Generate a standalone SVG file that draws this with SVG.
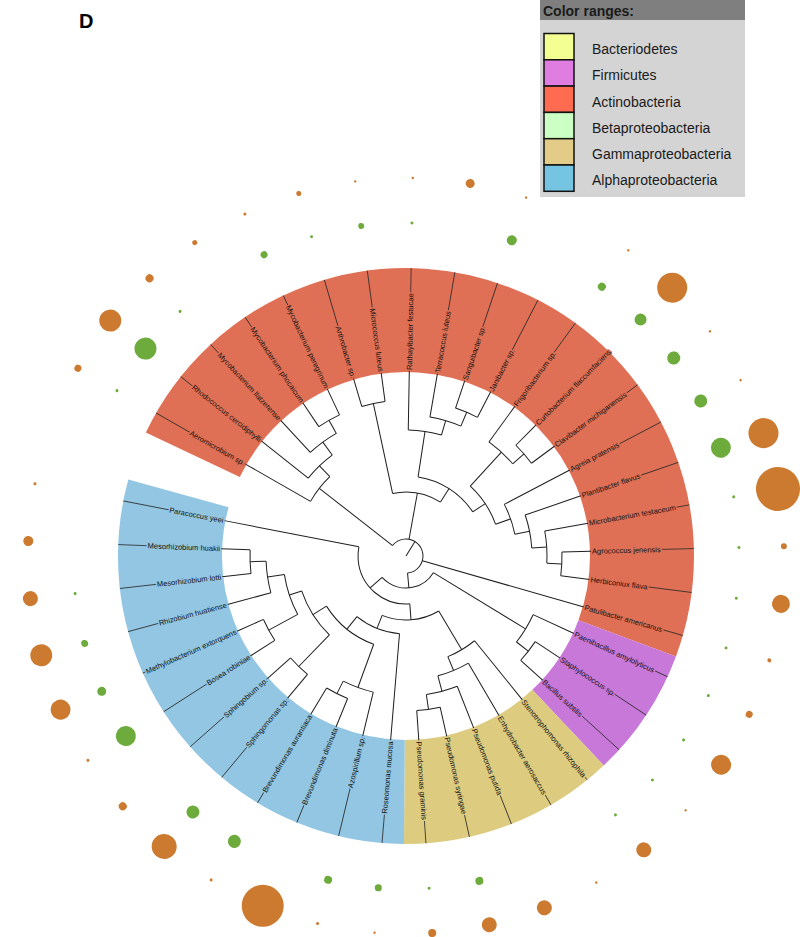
<svg xmlns="http://www.w3.org/2000/svg" width="800" height="937" viewBox="0 0 800 937">
<style>
.t{fill:none;stroke:#1e1e1e;stroke-width:1}
.ld{stroke:#2a2a2a;stroke-width:0.8}
.lb{font-family:"Liberation Sans",Arial,sans-serif;font-size:7.5px;fill:#111;paint-order:stroke;stroke-width:3px;stroke-linejoin:round}
.L{text-anchor:end}
.cr .lb{stroke:#E07055}
.cp .lb{stroke:#C878D8}
.cy .lb{stroke:#DDCC80}
.cb .lb{stroke:#92C6E2}
.ring{fill:none;stroke-width:104}
.o{fill:#CC7A30}
.g{fill:#6CAB3C}
.lg{font-family:"Liberation Sans",Arial,sans-serif;font-size:14px;fill:#1a1a1a}
.sw{stroke:#111;stroke-width:1.5}
</style>
<rect width="800" height="937" fill="#fff"/>
<text x="79" y="28" font-family="Liberation Sans,Arial,sans-serif" font-size="20" font-weight="bold" fill="#000">D</text>
<g id="legend">
<rect x="540" y="0" width="205" height="197" fill="#d4d4d4"/>
<rect x="540" y="0" width="205" height="20" fill="#7f7f7f"/>
<text class="lg" x="543" y="16" font-weight="bold">Color ranges:</text>
<rect class="sw" x="544" y="33.5" width="30" height="26.3" fill="#F4FF92"/>
<rect class="sw" x="544" y="59.8" width="30" height="26.3" fill="#E07DE0"/>
<rect class="sw" x="544" y="86.1" width="30" height="26.3" fill="#FF6B50"/>
<rect class="sw" x="544" y="112.4" width="30" height="26.3" fill="#CCFFC4"/>
<rect class="sw" x="544" y="138.7" width="30" height="26.3" fill="#E3CC88"/>
<rect class="sw" x="544" y="165" width="30" height="26.3" fill="#75C4E2"/>
<text class="lg" x="592" y="54">Bacteriodetes</text>
<text class="lg" x="592" y="80">Firmicutes</text>
<text class="lg" x="592" y="106.5">Actinobacteria</text>
<text class="lg" x="592" y="132.5">Betaproteobacteria</text>
<text class="lg" x="592" y="159">Gammaproteobacteria</text>
<text class="lg" x="592" y="185">Alphaproteobacteria</text>
</g>
<g transform="translate(406 556)">
<g id="ranges">
<circle class="ring" r="236" stroke="#E07055" pathLength="360" stroke-dasharray="175 360" transform="rotate(205.4)"/>
<circle class="ring" r="236" stroke="#C878D8" pathLength="360" stroke-dasharray="26.25 360" transform="rotate(20.4)"/>
<circle class="ring" r="236" stroke="#DDCC80" pathLength="360" stroke-dasharray="43.75 360" transform="rotate(46.65)"/>
<circle class="ring" r="236" stroke="#92C6E2" pathLength="360" stroke-dasharray="105 360" transform="rotate(90.4)"/>
</g>
<g id="connectors" class="t">
<line x2="17" transform="rotate(302)"/>
<circle r="17" pathLength="360" stroke-dasharray="226.82 360" transform="rotate(217.98)"/>
<line x1="17" x2="110" transform="rotate(217.98)"/>
<circle r="110" pathLength="360" stroke-dasharray="16.405 360" transform="rotate(209.775)"/>
<line x1="110" x2="185" transform="rotate(209.775)"/>
<line x1="110" x2="125" transform="rotate(226.18)"/>
<circle r="125" pathLength="360" stroke-dasharray="15.315 360" transform="rotate(218.525)"/>
<line x1="125" x2="185" transform="rotate(218.525)"/>
<line x1="125" x2="141" transform="rotate(233.84)"/>
<circle r="141" pathLength="360" stroke-dasharray="13.125 360" transform="rotate(227.275)"/>
<line x1="141" x2="185" transform="rotate(227.275)"/>
<line x1="141" x2="156" transform="rotate(240.4)"/>
<circle r="156" pathLength="360" stroke-dasharray="8.75 360" transform="rotate(236.025)"/>
<line x1="156" x2="185" transform="rotate(236.025)"/>
<line x1="156" x2="185" transform="rotate(244.775)"/>
<line x1="17" x2="64" transform="rotate(280.25)"/>
<circle r="64" pathLength="360" stroke-dasharray="44.7 360" transform="rotate(257.9)"/>
<line x1="64" x2="156" transform="rotate(257.9)"/>
<circle r="156" pathLength="360" stroke-dasharray="8.75 360" transform="rotate(253.525)"/>
<line x1="156" x2="185" transform="rotate(253.525)"/>
<line x1="156" x2="185" transform="rotate(262.275)"/>
<line x1="64" x2="80" transform="rotate(302.6)"/>
<circle r="80" pathLength="360" stroke-dasharray="47.85 360" transform="rotate(278.68)"/>
<line x1="80" x2="126" transform="rotate(278.68)"/>
<circle r="126" pathLength="360" stroke-dasharray="15.315 360" transform="rotate(271.025)"/>
<line x1="126" x2="185" transform="rotate(271.025)"/>
<line x1="126" x2="141" transform="rotate(286.34)"/>
<circle r="141" pathLength="360" stroke-dasharray="13.125 360" transform="rotate(279.775)"/>
<line x1="141" x2="185" transform="rotate(279.775)"/>
<line x1="141" x2="156" transform="rotate(292.9)"/>
<circle r="156" pathLength="360" stroke-dasharray="8.75 360" transform="rotate(288.525)"/>
<line x1="156" x2="185" transform="rotate(288.525)"/>
<line x1="156" x2="185" transform="rotate(297.275)"/>
<line x1="80" x2="95" transform="rotate(326.53)"/>
<circle r="95" pathLength="360" stroke-dasharray="27.89 360" transform="rotate(312.59)"/>
<line x1="95" x2="141" transform="rotate(312.59)"/>
<circle r="141" pathLength="360" stroke-dasharray="13.125 360" transform="rotate(306.025)"/>
<line x1="141" x2="185" transform="rotate(306.025)"/>
<line x1="141" x2="156" transform="rotate(319.15)"/>
<circle r="156" pathLength="360" stroke-dasharray="8.75 360" transform="rotate(314.775)"/>
<line x1="156" x2="185" transform="rotate(314.775)"/>
<line x1="156" x2="185" transform="rotate(323.525)"/>
<line x1="95" x2="111" transform="rotate(340.48)"/>
<circle r="111" pathLength="360" stroke-dasharray="16.405 360" transform="rotate(332.275)"/>
<line x1="111" x2="185" transform="rotate(332.275)"/>
<line x1="111" x2="126" transform="rotate(348.68)"/>
<circle r="126" pathLength="360" stroke-dasharray="15.315 360" transform="rotate(341.025)"/>
<line x1="126" x2="185" transform="rotate(341.025)"/>
<line x1="126" x2="141" transform="rotate(356.34)"/>
<circle r="141" pathLength="360" stroke-dasharray="13.125 360" transform="rotate(349.775)"/>
<line x1="141" x2="185" transform="rotate(349.775)"/>
<line x1="141" x2="156" transform="rotate(362.9)"/>
<circle r="156" pathLength="360" stroke-dasharray="8.75 360" transform="rotate(358.525)"/>
<line x1="156" x2="185" transform="rotate(358.525)"/>
<line x1="156" x2="185" transform="rotate(367.275)"/>
<line x1="17" x2="185" transform="rotate(16.025)"/>
<line x1="17" x2="32" transform="rotate(84.8)"/>
<circle r="32" pathLength="360" stroke-dasharray="106.96 360" transform="rotate(31.34)"/>
<line x1="32" x2="140" transform="rotate(31.34)"/>
<circle r="140" pathLength="360" stroke-dasharray="13.125 360" transform="rotate(24.775)"/>
<line x1="140" x2="185" transform="rotate(24.775)"/>
<line x1="140" x2="155" transform="rotate(37.9)"/>
<circle r="155" pathLength="360" stroke-dasharray="8.75 360" transform="rotate(33.525)"/>
<line x1="155" x2="185" transform="rotate(33.525)"/>
<line x1="155" x2="185" transform="rotate(42.275)"/>
<line x1="32" x2="48" transform="rotate(138.3)"/>
<circle r="48" pathLength="360" stroke-dasharray="105.525 360" transform="rotate(85.5)"/>
<line x1="48" x2="185" transform="rotate(191.025)"/>
<line x1="48" x2="64" transform="rotate(85.5)"/>
<circle r="64" pathLength="360" stroke-dasharray="52.63 360" transform="rotate(59.23)"/>
<line x1="64" x2="109" transform="rotate(59.23)"/>
<circle r="109" pathLength="360" stroke-dasharray="16.405 360" transform="rotate(51.025)"/>
<line x1="109" x2="185" transform="rotate(51.025)"/>
<line x1="109" x2="124" transform="rotate(67.43)"/>
<circle r="124" pathLength="360" stroke-dasharray="15.315 360" transform="rotate(59.775)"/>
<line x1="124" x2="185" transform="rotate(59.775)"/>
<line x1="124" x2="140" transform="rotate(75.09)"/>
<circle r="140" pathLength="360" stroke-dasharray="13.125 360" transform="rotate(68.525)"/>
<line x1="140" x2="185" transform="rotate(68.525)"/>
<line x1="140" x2="155" transform="rotate(81.65)"/>
<circle r="155" pathLength="360" stroke-dasharray="8.75 360" transform="rotate(77.275)"/>
<line x1="155" x2="185" transform="rotate(77.275)"/>
<line x1="155" x2="185" transform="rotate(86.025)"/>
<line x1="64" x2="78" transform="rotate(111.86)"/>
<circle r="78" pathLength="360" stroke-dasharray="34.175 360" transform="rotate(94.775)"/>
<line x1="78" x2="185" transform="rotate(94.775)"/>
<line x1="78" x2="94" transform="rotate(128.95)"/>
<circle r="94" pathLength="360" stroke-dasharray="37.71 360" transform="rotate(110.09)"/>
<line x1="94" x2="140" transform="rotate(110.09)"/>
<circle r="140" pathLength="360" stroke-dasharray="13.125 360" transform="rotate(103.525)"/>
<line x1="140" x2="185" transform="rotate(103.525)"/>
<line x1="140" x2="154" transform="rotate(116.65)"/>
<circle r="154" pathLength="360" stroke-dasharray="8.75 360" transform="rotate(112.275)"/>
<line x1="154" x2="185" transform="rotate(112.275)"/>
<line x1="154" x2="185" transform="rotate(121.025)"/>
<line x1="94" x2="110" transform="rotate(147.8)"/>
<circle r="110" pathLength="360" stroke-dasharray="27.35 360" transform="rotate(134.15)"/>
<line x1="110" x2="154" transform="rotate(134.15)"/>
<circle r="154" pathLength="360" stroke-dasharray="8.75 360" transform="rotate(129.775)"/>
<line x1="154" x2="185" transform="rotate(129.775)"/>
<line x1="154" x2="185" transform="rotate(138.525)"/>
<line x1="110" x2="123" transform="rotate(161.5)"/>
<circle r="123" pathLength="360" stroke-dasharray="19.69 360" transform="rotate(151.65)"/>
<line x1="123" x2="156" transform="rotate(151.65)"/>
<circle r="156" pathLength="360" stroke-dasharray="8.75 360" transform="rotate(147.275)"/>
<line x1="156" x2="185" transform="rotate(147.275)"/>
<line x1="156" x2="185" transform="rotate(156.025)"/>
<line x1="123" x2="140" transform="rotate(171.34)"/>
<circle r="140" pathLength="360" stroke-dasharray="13.125 360" transform="rotate(164.775)"/>
<line x1="140" x2="185" transform="rotate(164.775)"/>
<line x1="140" x2="156" transform="rotate(177.9)"/>
<circle r="156" pathLength="360" stroke-dasharray="8.75 360" transform="rotate(173.525)"/>
<line x1="156" x2="185" transform="rotate(173.525)"/>
<line x1="156" x2="185" transform="rotate(182.275)"/>
</g>
<g id="leaves">
<g id="n00" class="cr"><line class="ld" x1="186" x2="288" transform="rotate(209.775)"/><text class="lb L" transform="rotate(29.775)" x="-186" y="2.6">Aeromicrobium sp.</text></g>
<g id="n01" class="cr"><line class="ld" x1="186" x2="288" transform="rotate(218.525)"/><text class="lb L" transform="rotate(38.525)" x="-186" y="2.6">Rhodococcus cercidiphylli</text></g>
<g id="n02" class="cr"><line class="ld" x1="186" x2="288" transform="rotate(227.275)"/><text class="lb L" transform="rotate(47.275)" x="-186" y="2.6">Mycobacterium llatzerense</text></g>
<g id="n03" class="cr"><line class="ld" x1="186" x2="288" transform="rotate(236.025)"/><text class="lb L" transform="rotate(56.025)" x="-186" y="2.6">Mycobacterium phocaicum</text></g>
<g id="n04" class="cr"><line class="ld" x1="186" x2="288" transform="rotate(244.775)"/><text class="lb L" transform="rotate(64.775)" x="-186" y="2.6">Mycobacterium peregrinum</text></g>
<g id="n05" class="cr"><line class="ld" x1="186" x2="288" transform="rotate(253.525)"/><text class="lb L" transform="rotate(73.525)" x="-186" y="2.6">Arthrobacter sp.</text></g>
<g id="n06" class="cr"><line class="ld" x1="186" x2="288" transform="rotate(262.275)"/><text class="lb L" transform="rotate(82.275)" x="-186" y="2.6">Micrococcus luteus</text></g>
<g id="n07" class="cr"><line class="ld" x1="186" x2="288" transform="rotate(271.025)"/><text class="lb" transform="rotate(271.025)" x="186" y="2.6">Rathayibacter festucae</text></g>
<g id="n08" class="cr"><line class="ld" x1="186" x2="288" transform="rotate(279.775)"/><text class="lb" transform="rotate(279.775)" x="186" y="2.6">Terracoccus luteus</text></g>
<g id="n09" class="cr"><line class="ld" x1="186" x2="288" transform="rotate(288.525)"/><text class="lb" transform="rotate(288.525)" x="186" y="2.6">Sanguibacter sp.</text></g>
<g id="n10" class="cr"><line class="ld" x1="186" x2="288" transform="rotate(297.275)"/><text class="lb" transform="rotate(297.275)" x="186" y="2.6">Janibacter sp.</text></g>
<g id="n11" class="cr"><line class="ld" x1="186" x2="288" transform="rotate(306.025)"/><text class="lb" transform="rotate(306.025)" x="186" y="2.6">Frigoribacterium sp.</text></g>
<g id="n12" class="cr"><line class="ld" x1="186" x2="288" transform="rotate(314.775)"/><text class="lb" transform="rotate(314.775)" x="186" y="2.6">Curtobacterium flaccumfaciens</text></g>
<g id="n13" class="cr"><line class="ld" x1="186" x2="288" transform="rotate(323.525)"/><text class="lb" transform="rotate(323.525)" x="186" y="2.6">Clavibacter michiganensis</text></g>
<g id="n14" class="cr"><line class="ld" x1="186" x2="288" transform="rotate(332.275)"/><text class="lb" transform="rotate(332.275)" x="186" y="2.6">Agreia pratensis</text></g>
<g id="n15" class="cr"><line class="ld" x1="186" x2="288" transform="rotate(341.025)"/><text class="lb" transform="rotate(341.025)" x="186" y="2.6">Plantibacter flavus</text></g>
<g id="n16" class="cr"><line class="ld" x1="186" x2="288" transform="rotate(349.775)"/><text class="lb" transform="rotate(349.775)" x="186" y="2.6">Microbacterium testaceum</text></g>
<g id="n17" class="cr"><line class="ld" x1="186" x2="288" transform="rotate(358.525)"/><text class="lb" transform="rotate(358.525)" x="186" y="2.6">Agrococcus jenensis</text></g>
<g id="n18" class="cr"><line class="ld" x1="186" x2="288" transform="rotate(7.275)"/><text class="lb" transform="rotate(7.275)" x="186" y="2.6">Herbiconiux flava</text></g>
<g id="n19" class="cr"><line class="ld" x1="186" x2="288" transform="rotate(16.025)"/><text class="lb" transform="rotate(16.025)" x="186" y="2.6">Patulibacter americanus</text></g>
<g id="n20" class="cp"><line class="ld" x1="186" x2="288" transform="rotate(24.775)"/><text class="lb" transform="rotate(24.775)" x="186" y="2.6">Paenibacillus amylolyticus</text></g>
<g id="n21" class="cp"><line class="ld" x1="186" x2="288" transform="rotate(33.525)"/><text class="lb" transform="rotate(33.525)" x="186" y="2.6">Staphylococcus sp.</text></g>
<g id="n22" class="cp"><line class="ld" x1="186" x2="288" transform="rotate(42.275)"/><text class="lb" transform="rotate(42.275)" x="186" y="2.6">Bacillus subtilis</text></g>
<g id="n23" class="cy"><line class="ld" x1="186" x2="288" transform="rotate(51.025)"/><text class="lb" transform="rotate(51.025)" x="186" y="2.6">Stenotrophomonas rhizophila</text></g>
<g id="n24" class="cy"><line class="ld" x1="186" x2="288" transform="rotate(59.775)"/><text class="lb" transform="rotate(59.775)" x="186" y="2.6">Enhydrobacter aerosaccus</text></g>
<g id="n25" class="cy"><line class="ld" x1="186" x2="288" transform="rotate(68.525)"/><text class="lb" transform="rotate(68.525)" x="186" y="2.6">Pseudomonas putida</text></g>
<g id="n26" class="cy"><line class="ld" x1="186" x2="288" transform="rotate(77.275)"/><text class="lb" transform="rotate(77.275)" x="186" y="2.6">Pseudomonas syringae</text></g>
<g id="n27" class="cy"><line class="ld" x1="186" x2="288" transform="rotate(86.025)"/><text class="lb" transform="rotate(86.025)" x="186" y="2.6">Pseudomonas graminis</text></g>
<g id="n28" class="cb"><line class="ld" x1="186" x2="288" transform="rotate(94.775)"/><text class="lb L" transform="rotate(-85.225)" x="-186" y="2.6">Roseomonas mucosa</text></g>
<g id="n29" class="cb"><line class="ld" x1="186" x2="288" transform="rotate(103.525)"/><text class="lb L" transform="rotate(-76.475)" x="-186" y="2.6">Azospirillum sp.</text></g>
<g id="n30" class="cb"><line class="ld" x1="186" x2="288" transform="rotate(112.275)"/><text class="lb L" transform="rotate(-67.725)" x="-186" y="2.6">Brevundimonas diminuta</text></g>
<g id="n31" class="cb"><line class="ld" x1="186" x2="288" transform="rotate(121.025)"/><text class="lb L" transform="rotate(-58.975)" x="-186" y="2.6">Brevundimonas aurantiaca</text></g>
<g id="n32" class="cb"><line class="ld" x1="186" x2="288" transform="rotate(129.775)"/><text class="lb L" transform="rotate(-50.225)" x="-186" y="2.6">Sphingomonas sp.</text></g>
<g id="n33" class="cb"><line class="ld" x1="186" x2="288" transform="rotate(138.525)"/><text class="lb L" transform="rotate(-41.475)" x="-186" y="2.6">Sphingobium sp.</text></g>
<g id="n34" class="cb"><line class="ld" x1="186" x2="288" transform="rotate(147.275)"/><text class="lb L" transform="rotate(-32.725)" x="-186" y="2.6">Bosea robiniae</text></g>
<g id="n35" class="cb"><line class="ld" x1="186" x2="288" transform="rotate(156.025)"/><text class="lb L" transform="rotate(-23.975)" x="-186" y="2.6">Methylobacterium extorquens</text></g>
<g id="n36" class="cb"><line class="ld" x1="186" x2="288" transform="rotate(164.775)"/><text class="lb L" transform="rotate(-15.225)" x="-186" y="2.6">Rhizobium huatiense</text></g>
<g id="n37" class="cb"><line class="ld" x1="186" x2="288" transform="rotate(173.525)"/><text class="lb L" transform="rotate(-6.475)" x="-186" y="2.6">Mesorhizobium lotti</text></g>
<g id="n38" class="cb"><line class="ld" x1="186" x2="288" transform="rotate(182.275)"/><text class="lb L" transform="rotate(2.275)" x="-186" y="2.6">Mesorhizobium huakii</text></g>
<g id="n39" class="cb"><line class="ld" x1="186" x2="288" transform="rotate(191.025)"/><text class="lb L" transform="rotate(11.025)" x="-186" y="2.6">Paracoccus yeei</text></g>
</g>
<g id="bubbles">
<circle class="o" cx="378" r="3.5" transform="rotate(209.775)"/>
<circle class="o" cx="378" r="11" transform="rotate(218.525)"/>
<circle class="o" cx="378" r="4" transform="rotate(227.275)"/>
<circle class="o" cx="378" r="2.5" transform="rotate(236.025)"/>
<circle class="o" cx="378" r="1.5" transform="rotate(244.775)"/>
<circle class="o" cx="378" r="2.5" transform="rotate(253.525)"/>
<circle class="o" cx="378" r="1.2" transform="rotate(262.275)"/>
<circle class="o" cx="378" r="1.2" transform="rotate(271.025)"/>
<circle class="o" cx="378" r="4.5" transform="rotate(279.775)"/>
<circle class="o" cx="378" r="1.2" transform="rotate(288.525)"/>
<circle class="o" cx="378" r="1.2" transform="rotate(306.025)"/>
<circle class="o" cx="378" r="15" transform="rotate(314.775)"/>
<circle class="o" cx="378" r="1.2" transform="rotate(323.525)"/>
<circle class="o" cx="378" r="1.2" transform="rotate(332.275)"/>
<circle class="o" cx="378" r="15" transform="rotate(341.025)"/>
<circle class="o" cx="378" r="22" transform="rotate(349.775)"/>
<circle class="o" cx="378" r="3" transform="rotate(358.525)"/>
<circle class="o" cx="378" r="9" transform="rotate(7.275)"/>
<circle class="o" cx="378" r="2" transform="rotate(16.025)"/>
<circle class="o" cx="378" r="3.5" transform="rotate(24.775)"/>
<circle class="o" cx="378" r="10" transform="rotate(33.525)"/>
<circle class="o" cx="378" r="1.2" transform="rotate(42.275)"/>
<circle class="o" cx="378" r="7.5" transform="rotate(51.025)"/>
<circle class="o" cx="378" r="1.2" transform="rotate(59.775)"/>
<circle class="o" cx="378" r="7.5" transform="rotate(68.525)"/>
<circle class="o" cx="378" r="7.5" transform="rotate(77.275)"/>
<circle class="o" cx="378" r="4" transform="rotate(86.025)"/>
<circle class="o" cx="378" r="1.2" transform="rotate(94.775)"/>
<circle class="o" cx="378" r="1.5" transform="rotate(103.525)"/>
<circle class="o" cx="378" r="21" transform="rotate(112.275)"/>
<circle class="o" cx="378" r="1.5" transform="rotate(121.025)"/>
<circle class="o" cx="378" r="12.5" transform="rotate(129.775)"/>
<circle class="o" cx="378" r="4" transform="rotate(138.525)"/>
<circle class="o" cx="378" r="1.5" transform="rotate(147.275)"/>
<circle class="o" cx="378" r="10" transform="rotate(156.025)"/>
<circle class="o" cx="378" r="11" transform="rotate(164.775)"/>
<circle class="o" cx="378" r="7.5" transform="rotate(173.525)"/>
<circle class="o" cx="378" r="5" transform="rotate(182.275)"/>
<circle class="o" cx="378" r="1.5" transform="rotate(191.025)"/>
<circle class="g" cx="333" r="1.5" transform="rotate(209.775)"/>
<circle class="g" cx="333" r="11" transform="rotate(218.525)"/>
<circle class="g" cx="333" r="1.5" transform="rotate(227.275)"/>
<circle class="g" cx="333" r="3.5" transform="rotate(244.775)"/>
<circle class="g" cx="333" r="1.5" transform="rotate(253.525)"/>
<circle class="g" cx="333" r="3" transform="rotate(262.275)"/>
<circle class="g" cx="333" r="1.5" transform="rotate(271.025)"/>
<circle class="g" cx="333" r="5" transform="rotate(288.525)"/>
<circle class="g" cx="333" r="4" transform="rotate(306.025)"/>
<circle class="g" cx="333" r="6" transform="rotate(314.775)"/>
<circle class="g" cx="333" r="6.5" transform="rotate(323.525)"/>
<circle class="g" cx="333" r="6.5" transform="rotate(332.275)"/>
<circle class="g" cx="333" r="10" transform="rotate(341.025)"/>
<circle class="g" cx="333" r="1.5" transform="rotate(349.775)"/>
<circle class="g" cx="333" r="1.5" transform="rotate(358.525)"/>
<circle class="g" cx="333" r="1.5" transform="rotate(7.275)"/>
<circle class="g" cx="333" r="1.5" transform="rotate(16.025)"/>
<circle class="g" cx="333" r="1.5" transform="rotate(24.775)"/>
<circle class="g" cx="333" r="1.5" transform="rotate(33.525)"/>
<circle class="g" cx="333" r="1.5" transform="rotate(42.275)"/>
<circle class="g" cx="333" r="1.5" transform="rotate(51.025)"/>
<circle class="g" cx="333" r="4" transform="rotate(77.275)"/>
<circle class="g" cx="333" r="1.5" transform="rotate(86.025)"/>
<circle class="g" cx="333" r="3.5" transform="rotate(94.775)"/>
<circle class="g" cx="333" r="4" transform="rotate(103.525)"/>
<circle class="g" cx="333" r="6.5" transform="rotate(121.025)"/>
<circle class="g" cx="333" r="6.5" transform="rotate(129.775)"/>
<circle class="g" cx="333" r="10" transform="rotate(147.275)"/>
<circle class="g" cx="333" r="4.5" transform="rotate(156.025)"/>
<circle class="g" cx="333" r="3.5" transform="rotate(164.775)"/>
<circle class="g" cx="333" r="1.5" transform="rotate(173.525)"/>
</g>
</g>
</svg>
